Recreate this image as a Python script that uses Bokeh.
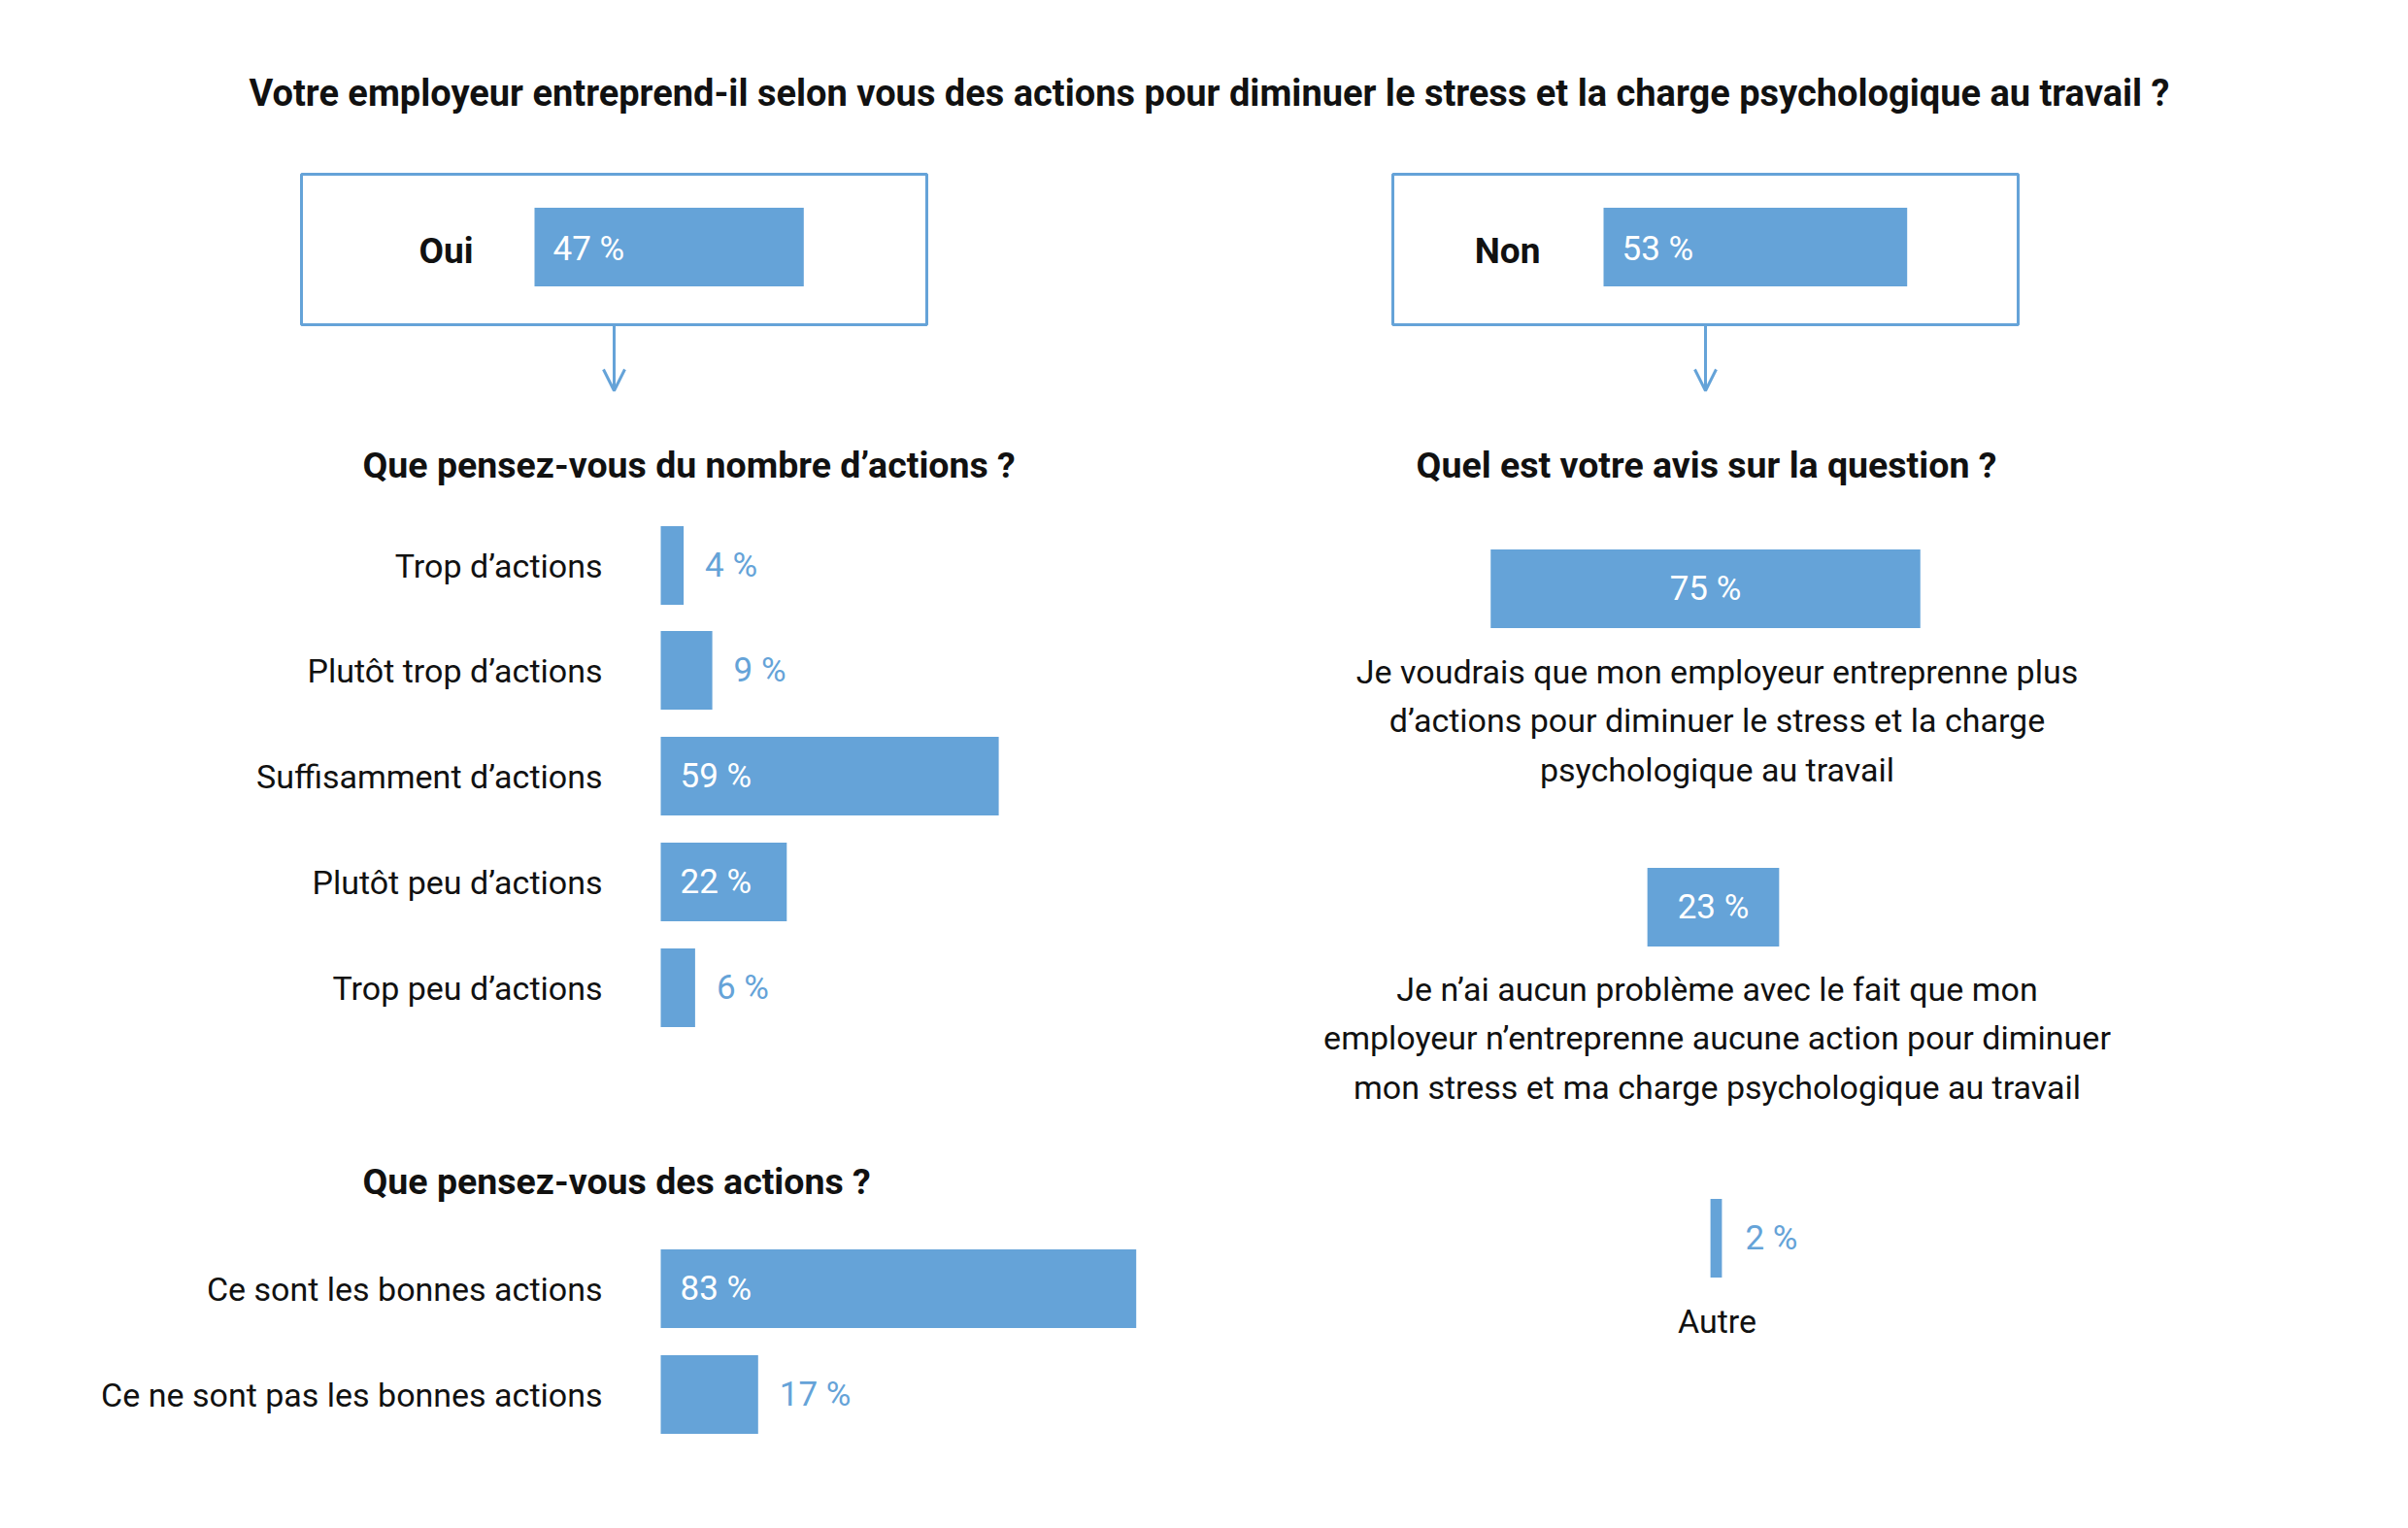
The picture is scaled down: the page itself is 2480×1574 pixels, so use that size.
from bokeh.plotting import figure
from bokeh.models import Range1d, Arrow, OpenHead, ColumnDataSource
from bokeh.core.properties import value
from bokeh.embed import file_html
from bokeh.resources import INLINE

# ---------------- data ----------------
TITLE = "Votre employeur entreprend-il selon vous des actions pour diminuer le stress et la charge psychologique au travail ?"

top_labels = ["Oui", "Non"]
top_values = [47, 53]

nombre_title = "Que pensez-vous du nombre d’actions ?"
nombre_labels = ["Trop d’actions", "Plutôt trop d’actions", "Suffisamment d’actions",
                 "Plutôt peu d’actions", "Trop peu d’actions"]
nombre_values = [4, 9, 59, 22, 6]

qualite_title = "Que pensez-vous des actions ?"
qualite_labels = ["Ce sont les bonnes actions", "Ce ne sont pas les bonnes actions"]
qualite_values = [83, 17]

avis_title = "Quel est votre avis sur la question ?"
avis_labels = [
    ["Je voudrais que mon employeur entreprenne plus",
     "d’actions pour diminuer le stress et la charge",
     "psychologique au travail"],
    ["Je n’ai aucun problème avec le fait que mon",
     "employeur n’entreprenne aucune action pour diminuer",
     "mon stress et ma charge psychologique au travail"],
    ["Autre"],
]
avis_values = [75, 23, 2]

# ---------------- style / layout ----------------
BLUE = "#65A3D8"
BLACK = "#111111"
FONT = "Roboto"
K = 5.9            # pixels per percent
BAR_H = 81
INSIDE_MIN = 20    # labels inside the bar from this value
LAB_SIZE = 34
VAL_SIZE = 35
SUB_SIZE = 37.5
TITLE_SIZE = 38

W, H = 2464, 1558
p = figure(width=W, height=H, output_backend="svg", toolbar_location=None,
           x_range=Range1d(0, W), y_range=Range1d(H, 0),
           x_axis_type=None, y_axis_type=None, min_border=0,
           outline_line_color=None, background_fill_color="white",
           border_fill_color="white")
p.grid.visible = False


def txt(x, y, t, size, bold=False, color=BLACK, align="left"):
    p.text(x=[x], y=[y], text=[t], text_font=value(FONT), text_font_size=f"{size}px",
           text_font_style="bold" if bold else "normal", text_color=color,
           text_align=align, text_baseline="middle")


def value_labels(x0, ys, vals):
    for y, v in zip(ys, vals):
        lab = f"{v} %"
        if v >= INSIDE_MIN:
            txt(x0 + 20, y, lab, VAL_SIZE, color="white")
        else:
            txt(x0 + v * K + 22, y, lab, VAL_SIZE, color=BLUE)


# title
txt(1245, 95, TITLE, TITLE_SIZE, bold=True, align="center")

# top boxes Oui / Non
box_left = [310, 1434]
box_w = 644
box_top, box_bot = 179, 334
bar_x0 = [550, 1651]
lab_cx = [459, 1552]
for i in range(2):
    p.quad(left=[box_left[i]], right=[box_left[i] + box_w], top=[box_top], bottom=[box_bot],
           fill_color=None, line_color=BLUE, line_width=3)
    src = ColumnDataSource(dict(y=[254], left=[bar_x0[i]], right=[bar_x0[i] + top_values[i] * K]))
    p.hbar(y="y", left="left", right="right", height=BAR_H, source=src,
           fill_color=BLUE, line_color=None)
    txt(lab_cx[i], 258, top_labels[i], 37, bold=True, align="center")
    txt(bar_x0[i] + 19, 256, f"{top_values[i]} %", VAL_SIZE, color="white")
    cx = box_left[i] + box_w / 2
    p.add_layout(Arrow(end=OpenHead(size=22, line_color=BLUE, line_width=3),
                       x_start=cx, y_start=box_bot, x_end=cx, y_end=402,
                       line_color=BLUE, line_width=3))

# left block : nombre d'actions
X0 = 680
LAB_X = 620
txt(373, 478, nombre_title, SUB_SIZE, bold=True)
ny = [582, 690, 799, 908, 1017]
src = ColumnDataSource(dict(y=ny, left=[X0] * 5, right=[X0 + v * K for v in nombre_values]))
p.hbar(y="y", left="left", right="right", height=BAR_H, source=src, fill_color=BLUE, line_color=None)
for y, lab in zip(ny, nombre_labels):
    txt(LAB_X, y, lab, LAB_SIZE, align="right")
value_labels(X0, ny, nombre_values)

# left block : qualité des actions
txt(373, 1216, qualite_title, SUB_SIZE, bold=True)
qy = [1327, 1436]
src = ColumnDataSource(dict(y=qy, left=[X0] * 2, right=[X0 + v * K for v in qualite_values]))
p.hbar(y="y", left="left", right="right", height=BAR_H, source=src, fill_color=BLUE, line_color=None)
for y, lab in zip(qy, qualite_labels):
    txt(LAB_X, y, lab, LAB_SIZE, align="right")
value_labels(X0, qy, qualite_values)

# right block : avis
txt(1757, 478, avis_title, SUB_SIZE, bold=True, align="center")
ay = [606, 934, 1275]
acx = [1756, 1764, 1767]
line_y0 = [691, 1018, 1360]
src = ColumnDataSource(dict(y=ay, left=[c - v * K / 2 for c, v in zip(acx, avis_values)],
                            right=[c + v * K / 2 for c, v in zip(acx, avis_values)]))
p.hbar(y="y", left="left", right="right", height=BAR_H, source=src, fill_color=BLUE, line_color=None)
for y, c, v, lines, ly in zip(ay, acx, avis_values, avis_labels, line_y0):
    if v >= INSIDE_MIN:
        txt(c, y, f"{v} %", VAL_SIZE, color="white", align="center")
    else:
        txt(c + v * K / 2 + 24, y, f"{v} %", VAL_SIZE, color=BLUE)
    for j, line in enumerate(lines):
        txt(1768, ly + j * 50.5, line, LAB_SIZE, align="center")

open("out.html", "w").write(file_html(p, INLINE))
